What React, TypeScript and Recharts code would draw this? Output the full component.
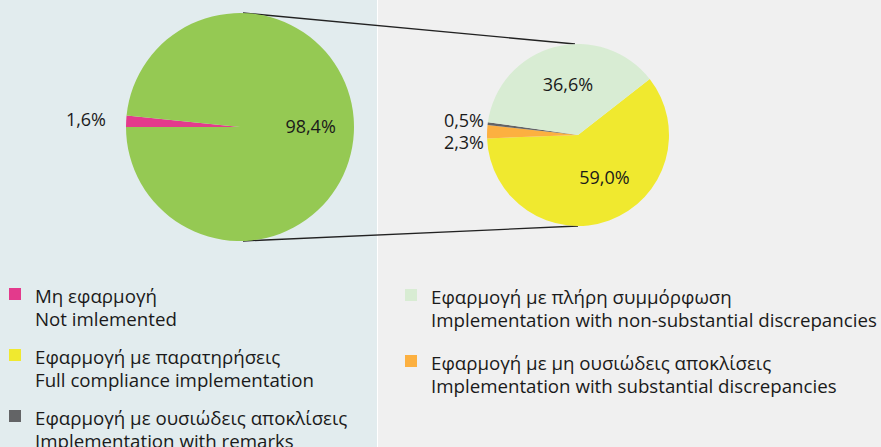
import React from 'react';
import { PieChart, Pie, Cell, Customized } from 'recharts';

// overall share (left pie)
const overviewNames = ['Μη εφαρμογή', 'Εφαρμογή'];
const overviewValues = [1.6, 98.4];
const overviewColors = ['#e33a8c', '#95c953'];

// breakdown of the implemented share (right pie)
const breakdownNames = [
  'Εφαρμογή με παρατηρήσεις',
  'Εφαρμογή με μη ουσιώδεις αποκλίσεις',
  'Εφαρμογή με ουσιώδεις αποκλίσεις',
  'Εφαρμογή με πλήρη συμμόρφωση',
];
const breakdownValues = [59.0, 2.3, 0.5, 36.6];
const breakdownColors = ['#f0e92f', '#fcb040', '#636466', '#d8ecd3'];

// legend, as printed
const legendLeftGreek = ['Μη εφαρμογή', 'Εφαρμογή με παρατηρήσεις', 'Εφαρμογή με ουσιώδεις αποκλίσεις'];
const legendLeftEnglish = ['Not imlemented', 'Full compliance implementation', 'Implementation with remarks'];
const legendLeftColors = ['#e33a8c', '#f0e92f', '#636466'];
const legendRightGreek = ['Εφαρμογή με πλήρη συμμόρφωση', 'Εφαρμογή με μη ουσιώδεις αποκλίσεις'];
const legendRightEnglish = ['Implementation with non-substantial discrepancies', 'Implementation with substantial discrepancies'];
const legendRightColors = ['#d8ecd3', '#fcb040'];

const overviewData = overviewNames.map((name, i) => ({ name, value: overviewValues[i] }));
const breakdownData = breakdownNames.map((name, i) => ({ name, value: breakdownValues[i] }));

const W = 881;
const H = 447;
const FONT = '"Open Sans", "Noto Sans", sans-serif';
const TEXT = '#1a1a1a';
const RAD = Math.PI / 180;

const L = { cx: 240, cy: 127, r: 114 };
const R = { cx: 578, cy: 135, r: 91 };

const fmt = (v: number) => v.toFixed(1).replace('.', ',') + '%';

function makeLabel(gap: number, inner: number, smallDy: Record<number, number>, shift: Record<number, number[]>) {
  return (p: any) => {
    const { cx, cy, midAngle, outerRadius, value, percent, index } = p;
    if (percent < 0.05) {
      const y = cy - outerRadius * Math.sin(midAngle * RAD) + (smallDy[index] || 0);
      return (
        <text x={cx - outerRadius - gap} y={y} textAnchor="end" dominantBaseline="central"
          fill={TEXT} fontSize={18} fontFamily={FONT}>{fmt(value)}</text>
      );
    }
    const rr = outerRadius * inner;
    const [sx, sy] = shift[index] || [0, 0];
    const x = cx + rr * Math.cos(-midAngle * RAD) + sx;
    const y = cy + rr * Math.sin(-midAngle * RAD) + sy;
    return (
      <text x={x} y={y} textAnchor="middle" dominantBaseline="central"
        fill={TEXT} fontSize={18} fontFamily={FONT}>{fmt(value)}</text>
    );
  };
}

function LegendColumn({ x, y0, step, greek, english, colors }: any) {
  return (
    <g>
      {greek.map((g: string, i: number) => {
        const y = y0 + i * step;
        return (
          <g key={g}>
            <rect x={x} y={y - 6} width={12} height={12} fill={colors[i]} />
            <text x={x + 26} y={y + 1} dominantBaseline="central" fontSize={18.7} fontFamily={FONT} fill={TEXT}>{g}</text>
            <text x={x + 26} y={y + 24} dominantBaseline="central" fontSize={18.7} fontFamily={FONT} fill={TEXT}>{english[i]}</text>
          </g>
        );
      })}
    </g>
  );
}

function Extras() {
  return (
    <g>
      <line x1={L.cx + 3} y1={L.cy - L.r} x2={R.cx - 3} y2={R.cy - R.r} stroke="#222" strokeWidth={1.3} />
      <line x1={L.cx + 3} y1={L.cy + L.r} x2={R.cx} y2={R.cy + R.r} stroke="#222" strokeWidth={1.3} />
      <LegendColumn x={9} y0={294} step={61} greek={legendLeftGreek} english={legendLeftEnglish} colors={legendLeftColors} />
      <LegendColumn x={405} y0={295} step={66} greek={legendRightGreek} english={legendRightEnglish} colors={legendRightColors} />
    </g>
  );
}

export default function App() {
  return (
    <div style={{ position: 'absolute', left: 0, top: 0, width: W, height: H }}>
      <div style={{ position: 'absolute', left: 0, top: 0, width: 377, height: H, background: '#e2ecee' }} />
      <div style={{ position: 'absolute', left: 378, top: 0, width: W - 378, height: H, background: '#f0f0f0' }} />
      <div style={{ position: 'absolute', left: 0, top: 0 }}>
        <PieChart width={W} height={H} margin={{ top: 0, right: 0, bottom: 0, left: 0 }}>
          <Pie
            data={overviewData}
            dataKey="value"
            cx={L.cx}
            cy={L.cy}
            outerRadius={L.r}
            startAngle={180}
            endAngle={-180}
            stroke="none"
            labelLine={false}
            label={makeLabel(20, 0.62, { 0: -2 }, { 1: [0, -5] })}
            isAnimationActive={false}
          >
            {overviewData.map((d, i) => <Cell key={d.name} fill={overviewColors[i]} />)}
          </Pie>
          <Pie
            data={breakdownData}
            dataKey="value"
            cx={R.cx}
            cy={R.cy}
            outerRadius={R.r}
            startAngle={38}
            endAngle={-322}
            stroke="none"
            labelLine={false}
            label={makeLabel(3, 0.56, { 1: 10, 2: -4 }, { 0: [9, -6], 3: [3, -2] })}
            isAnimationActive={false}
          >
            {breakdownData.map((d, i) => <Cell key={d.name} fill={breakdownColors[i]} />)}
          </Pie>
          <Customized component={Extras} />
        </PieChart>
      </div>
    </div>
  );
}
